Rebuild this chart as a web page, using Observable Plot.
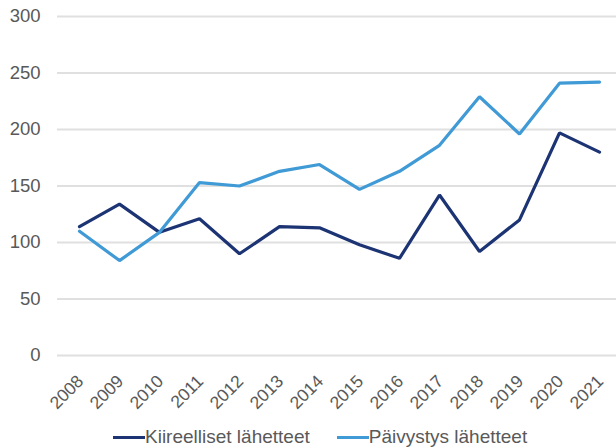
<!DOCTYPE html>
<html><head><meta charset="utf-8">
<script src="https://cdn.jsdelivr.net/npm/d3@7"></script>
<script src="https://cdn.jsdelivr.net/npm/@observablehq/plot@0.6"></script>
<style>
body{margin:0;background:#fff;font-family:"Liberation Sans",Arial,sans-serif;position:relative;width:616px;height:448px;overflow:hidden;}
#legend{position:absolute;left:113px;top:426px;display:flex;font-size:19px;line-height:22px;color:#595959;white-space:nowrap;}
#legend span{display:inline-flex;align-items:center;margin-right:27px;}
#legend i{display:inline-block;width:32px;height:3px;margin-right:0px;}
</style></head>
<body><div id="chart"></div><div id="legend"></div>
<script>
const years = ["2008","2009","2010","2011","2012","2013","2014","2015","2016","2017","2018","2019","2020","2021"];
const kiireelliset = [114,134,109,121,90,114,113,98,86,142,92,120,197,180];
const paivystys = [110,84,109,153,150,163,169,147,163,186,229,196,241,242];
const seriesNames = ["Kiireelliset lähetteet","Päivystys lähetteet"];
const colors = ["#1c3474","#3f9ad6"];
const yTicks = [0,50,100,150,200,250,300];

const data = [];
years.forEach((y,i)=>{
  data.push({year:y, value:kiireelliset[i], series:seriesNames[0]});
  data.push({year:y, value:paivystys[i], series:seriesNames[1]});
});

const plot = Plot.plot({
  width:616, height:412,
  marginLeft:57, marginRight:0, marginTop:16, marginBottom:57,
  style:{fontFamily:"Liberation Sans, Arial, sans-serif", color:"#595959", background:"#fff"},
  x:{type:"point", domain:years, range:[77,601], padding:0, axis:null},
  y:{domain:[0,300], axis:null},
  color:{domain:seriesNames, range:colors},
  marks:[
    Plot.gridY(yTicks,{stroke:"#e0e0e0", strokeOpacity:1, strokeWidth:1.8}),
    Plot.axisY(yTicks,{tickSize:0, tickPadding:17, fontSize:18.5, label:null}),
    Plot.text(years,{x:d=>d, y:()=>0, text:d=>d, rotate:-45, textAnchor:"end", lineAnchor:"middle", fontSize:17.5, dy:23, dx:1, fill:"#595959"}),
    Plot.line(data,{x:"year", y:"value", z:"series", stroke:"series", strokeWidth:3.2, strokeLinejoin:"miter"})
  ]
});
document.getElementById("chart").appendChild(plot);
const lg = document.getElementById("legend");
seriesNames.forEach((n,i)=>{
  const s=document.createElement("span");
  s.innerHTML=`<i style="background:${colors[i]}"></i>${n}`;
  lg.appendChild(s);
});
</script></body></html>
